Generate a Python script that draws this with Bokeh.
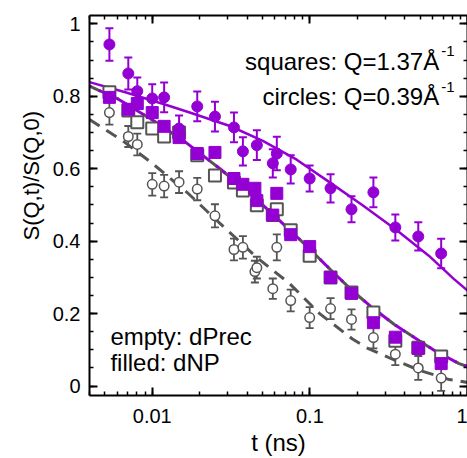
import math
from bokeh.plotting import figure
from bokeh.models import (ColumnDataSource, Whisker, TeeHead, LogAxis, LinearAxis, Title,
                          Range1d, FixedTicker, LogTicker, CustomJSTickFormatter, Label)
from bokeh.embed import file_html
from bokeh.resources import INLINE

PURPLE = "#9400D3"
GRAY = "#555555"
FONT = "Liberation Sans"

# ---------------- data ----------------
# filled circles: dNP, Q = 0.39 1/A
t_dnp_lowq = [0.00535, 0.00705, 0.00804, 0.0100, 0.0119, 0.0148, 0.0193, 0.0250, 0.0330, 0.0376,
              0.0461, 0.0582, 0.0617, 0.0756, 0.0997, 0.1353, 0.1837, 0.2530, 0.3485, 0.4872, 0.6808]
s_dnp_lowq = [0.943, 0.863, 0.814, 0.794, 0.797, 0.711, 0.772, 0.744, 0.714, 0.648,
              0.665, 0.615, 0.642, 0.598, 0.573, 0.546, 0.488, 0.535, 0.438, 0.413, 0.366]
e_dnp_lowq = [0.045, 0.044, 0.038, 0.039, 0.041, 0.036, 0.041, 0.041, 0.041, 0.039,
              0.041, 0.039, 0.046, 0.039, 0.036, 0.039, 0.036, 0.041, 0.036, 0.039, 0.041]

# open circles: dPrec, Q = 0.39 1/A
t_dprec_lowq = [0.00535, 0.00705, 0.00804, 0.0100, 0.0119, 0.0148, 0.0193, 0.0250, 0.0330, 0.0376,
                0.0448, 0.0461, 0.0582, 0.0617, 0.0756, 0.0997, 0.1353, 0.1837, 0.2530, 0.3485,
                0.4872, 0.6808]
s_dprec_lowq = [0.755, 0.689, 0.667, 0.557, 0.552, 0.563, 0.544, 0.470, 0.377, 0.383,
                0.316, 0.327, 0.269, 0.383, 0.236, 0.189, 0.214, 0.184, 0.134, 0.088,
                0.050, 0.022]
e_dprec_lowq = [0.033, 0.029, 0.030, 0.031, 0.031, 0.030, 0.031, 0.032, 0.030, 0.031,
                0.030, 0.030, 0.028, 0.036, 0.030, 0.029, 0.029, 0.028, 0.030, 0.030,
                0.033, 0.035]

# open squares: dPrec, Q = 1.37 1/A
t_dprec_highq = [0.00535, 0.00705, 0.00804, 0.0100, 0.0119, 0.0148, 0.0193, 0.0250, 0.0330, 0.0376,
                 0.0461, 0.0582, 0.0617, 0.0756, 0.0997, 0.1353, 0.1837, 0.2530, 0.3485, 0.4872, 0.6808]
s_dprec_highq = [0.811, 0.761, 0.728, 0.711, 0.689, 0.700, 0.637, 0.581, 0.562, 0.540,
                 0.499, 0.472, 0.488, 0.430, 0.360, 0.300, 0.258, 0.203, 0.125, 0.106, 0.082]

# filled squares: dNP, Q = 1.37 1/A
t_dnp_highq = [0.00535, 0.00705, 0.00804, 0.0100, 0.0119, 0.0148, 0.0193, 0.0250, 0.0330, 0.0376,
               0.0448, 0.0461, 0.0582, 0.0617, 0.0756, 0.0997, 0.1353, 0.1837, 0.2530, 0.3485,
               0.4872, 0.6808]
s_dnp_highq = [0.797, 0.764, 0.780, 0.755, 0.717, 0.686, 0.642, 0.645, 0.573, 0.557,
               0.546, 0.512, 0.472, 0.532, 0.418, 0.385, 0.300, 0.256, 0.175, 0.135,
               0.104, 0.062]

# fitted curves
t_fit_dnp_lowq = [0.004, 0.00675, 0.0119, 0.0171, 0.0311, 0.0503, 0.0825, 0.133, 0.216, 0.356, 0.568, 0.818, 1.0]
s_fit_dnp_lowq = [0.839, 0.811, 0.778, 0.756, 0.718, 0.677, 0.625, 0.563, 0.499, 0.430, 0.360, 0.296, 0.264]

t_fit_dprec_lowq = [0.004, 0.00646, 0.01, 0.0166, 0.0269, 0.0461, 0.0744, 0.1153, 0.1863, 0.2286, 0.343, 0.500, 0.766, 1.0]
s_fit_dprec_lowq = [0.736, 0.678, 0.615, 0.535, 0.449, 0.355, 0.283, 0.200, 0.130, 0.106, 0.072, 0.043, 0.018, 0.010]

t_fit_highq = [0.004, 0.0061, 0.01, 0.0164, 0.0269, 0.0461, 0.0724, 0.1, 0.1435, 0.1919, 0.2495, 0.3437, 0.4944, 0.6239, 0.8849, 1.0]
s_fit_dprec_highq = [0.828, 0.792, 0.735, 0.672, 0.600, 0.515, 0.436, 0.378, 0.310, 0.258, 0.216, 0.170, 0.125, 0.097, 0.062, 0.054]
s_fit_dnp_highq = [0.828, 0.792, 0.735, 0.672, 0.600, 0.515, 0.436, 0.378, 0.310, 0.258, 0.216, 0.170, 0.125, 0.097, 0.062, 0.054]

y_ticks = [0, 0.2, 0.4, 0.6, 0.8, 1.0]
y_minor = [round(0.05 * i, 2) for i in range(0, 21)]

# ---------------- figure ----------------
p = figure(width=467, height=458, x_axis_type="log",
           x_range=Range1d(0.004, 1.0), y_range=Range1d(-0.026, 1.023),
           output_backend="svg", toolbar_location=None,
           min_border_left=89, min_border_right=0, min_border_top=15, min_border_bottom=63)
p.outline_line_color = None
p.xgrid.visible = False
p.ygrid.visible = False
p.background_fill_color = "white"
p.border_fill_color = "white"

blank = CustomJSTickFormatter(code="return '';")

def style_axis(ax, labels=True):
    ax.axis_line_width = 2
    ax.axis_line_color = "black"
    ax.major_tick_in = 8
    ax.major_tick_out = 0
    ax.minor_tick_in = 4
    ax.minor_tick_out = 0
    ax.major_tick_line_width = 2
    ax.minor_tick_line_width = 1.5
    ax.major_tick_line_color = "black"
    ax.minor_tick_line_color = "black"
    if labels:
        ax.major_label_text_font = FONT
        ax.major_label_text_font_size = "20px"
        ax.major_label_text_color = "black"
    else:
        ax.formatter = blank
        ax.major_label_text_font_size = "1px"
        ax.major_label_standoff = 0
        ax.axis_label_standoff = 0

xfmt = CustomJSTickFormatter(code="return String(parseFloat(tick.toPrecision(6)));")
yfmt = CustomJSTickFormatter(code="return String(Math.round(tick*10)/10);")

xa = p.xaxis[0]
xa.ticker = LogTicker(num_minor_ticks=10)
xa.formatter = xfmt
style_axis(xa)
xa.major_label_standoff = 13
xa.axis_label = "t (ns)"
xa.axis_label_text_font = FONT
xa.axis_label_text_font_size = "24px"
xa.axis_label_text_font_style = "normal"
xa.axis_label_text_color = "black"
xa.axis_label_standoff = 3

ya = p.yaxis[0]
ya.ticker = FixedTicker(ticks=y_ticks, minor_ticks=y_minor)
ya.formatter = yfmt
style_axis(ya)
ya.major_label_standoff = 9

top = LogAxis(ticker=LogTicker(num_minor_ticks=10))
style_axis(top, labels=False)
p.add_layout(top, "above")
right = LinearAxis(ticker=FixedTicker(ticks=y_ticks, minor_ticks=y_minor))
style_axis(right, labels=False)
p.add_layout(right, "right")

ytitle = Title(text="S(Q,t)/S(Q,0)", align="left", offset=155, text_font=FONT,
               text_font_size="22px", text_font_style="normal", text_color="black",
               standoff=12)
p.add_layout(ytitle, "left")

# ---------------- curves ----------------
p.line(t_fit_dprec_lowq, s_fit_dprec_lowq, line_color=GRAY, line_width=3, line_dash="12 8")
p.line(t_fit_highq, s_fit_dprec_highq, line_color=GRAY, line_width=3, line_dash="12 8")
p.line(t_fit_highq, s_fit_dnp_highq, line_color=PURPLE, line_width=3, line_dash="12 8",
       line_dash_offset=10)
p.line(t_fit_dnp_lowq, s_fit_dnp_lowq, line_color=PURPLE, line_width=2.5)

# ---------------- error bars ----------------
def add_err(t, s, e, color, width):
    src = ColumnDataSource(dict(t=t, lo=[a - b for a, b in zip(s, e)], hi=[a + b for a, b in zip(s, e)]))
    w = Whisker(source=src, base="t", lower="lo", upper="hi", dimension="height",
                line_color=color, line_width=width,
                upper_head=TeeHead(size=8, line_color=color, line_width=width),
                lower_head=TeeHead(size=8, line_color=color, line_width=width))
    p.add_layout(w)

add_err(t_dprec_lowq, s_dprec_lowq, e_dprec_lowq, GRAY, 1.8)
add_err(t_dnp_lowq, s_dnp_lowq, e_dnp_lowq, PURPLE, 2)

# ---------------- markers ----------------
p.scatter(t_dprec_highq, s_dprec_highq, marker="square", size=12, fill_color="white",
          line_color=GRAY, line_width=2)
p.scatter(t_dnp_highq, s_dnp_highq, marker="square", size=12, fill_color=PURPLE,
          line_color=PURPLE, line_width=1)
p.scatter(t_dprec_lowq, s_dprec_lowq, marker="circle", size=9.5, fill_color="white",
          line_color=GRAY, line_width=1.5)
p.scatter(t_dnp_lowq, s_dnp_lowq, marker="circle", size=11, fill_color=PURPLE,
          line_color=PURPLE, line_width=1)

# ---------------- texts ----------------
def px2x(px):
    return 10 ** (-2 + (px - 152) / 158.2)

def px2y(py):
    return (385.5 - py) / 362.0

def lab(text, px, py, size, align="left", baseline="alphabetic"):
    p.add_layout(Label(x=px2x(px), y=px2y(py), text=text, text_font=FONT,
                       text_font_size=size, text_align=align, text_baseline=baseline,
                       text_color="black"))

lab("squares: Q=1.37\u00c5", 440, 61, "24px", align="right")
lab("-1", 442, 51, "15px")
lab("circles: Q=0.39\u00c5", 440, 96, "24px", align="right")
lab("-1", 442, 87, "15px")
lab("empty: dPrec", 110, 336, "24px")
lab("filled: dNP", 110, 362, "24px")

open("out.html", "w").write(file_html(p, INLINE))
